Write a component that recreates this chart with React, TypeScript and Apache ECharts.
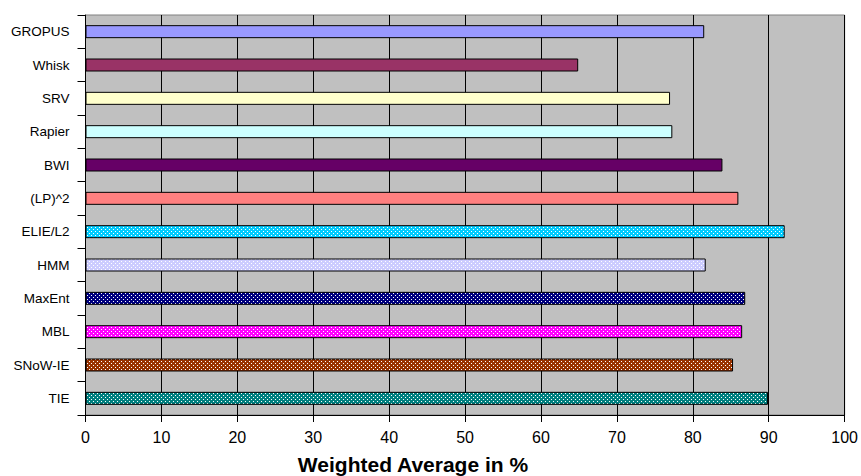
import React, { useEffect, useRef } from "react";
import * as echarts from "echarts";

// Systems, top to bottom
const systems = [
  "GROPUS", "Whisk", "SRV", "Rapier", "BWI", "(LP)^2",
  "ELIE/L2", "HMM", "MaxEnt", "MBL", "SNoW-IE", "TIE",
];
// Weighted average score (%) per system
const scores = [81.5, 64.9, 77.0, 77.3, 83.9, 86.0, 92.1, 81.7, 86.9, 86.5, 85.3, 89.9];
// Fill colour per system
const fills = [
  "#9999FF", "#993366", "#FFFFCC", "#CCFFFF", "#660066", "#FF8080",
  "#00CCFF", "#CCCCFF", "#000080", "#FF00FF", "#993300", "#008080",
];
// Whether the bar uses a dotted (checker) fill
const dotted = [false, false, false, false, false, false, true, true, true, true, true, true];
const xTicks = [0, 10, 20, 30, 40, 50, 60, 70, 80, 90, 100];

function dotPattern(base: string) {
  const c = document.createElement("canvas");
  c.width = 4;
  c.height = 4;
  const ctx = c.getContext("2d")!;
  ctx.fillStyle = base;
  ctx.fillRect(0, 0, 4, 4);
  ctx.fillStyle = "#FFFFFF";
  ctx.fillRect(1, 1, 1, 1);
  ctx.fillRect(3, 3, 1, 1);
  return { image: c, repeat: "repeat" as const };
}

export default function App() {
  const ref = useRef<HTMLDivElement>(null);

  useEffect(() => {
    if (!ref.current) return;
    const chart = echarts.init(ref.current, undefined, { renderer: "svg" });
    const data = scores.map((v, i) => ({
      value: v,
      itemStyle: {
        color: dotted[i] ? (dotPattern(fills[i]) as any) : fills[i],
        borderColor: "#000000",
        borderWidth: 1,
      },
    }));
    chart.setOption({
      animation: false,
      backgroundColor: "#FFFFFF",
      grid: {
        left: 85.5,
        right: 15.5,
        top: 15,
        bottom: 61,
        show: true,
        backgroundColor: "#C0C0C0",
        borderColor: "#808080",
        borderWidth: 1,
      },
      xAxis: {
        type: "value",
        min: xTicks[0],
        max: xTicks[xTicks.length - 1],
        interval: 10,
        axisLine: { show: true, lineStyle: { color: "#000000", width: 1 } },
        axisTick: { show: true, length: 7, lineStyle: { color: "#000000" } },
        axisLabel: {
          margin: 14,
          color: "#000000",
          fontSize: 16,
          fontFamily: "Liberation Sans, Arial, sans-serif",
        },
        splitLine: { show: true, lineStyle: { color: "#000000", width: 1 } },
      },
      yAxis: {
        type: "category",
        data: systems,
        inverse: true,
        axisLine: { show: true, lineStyle: { color: "#000000", width: 1 } },
        axisTick: { show: true, length: 8, lineStyle: { color: "#000000" } },
        axisLabel: {
          margin: 16,
          color: "#000000",
          fontSize: 13.5,
          fontFamily: "Liberation Sans, Arial, sans-serif",
        },
        splitLine: { show: false },
      },
      series: [
        {
          type: "bar",
          data,
          barWidth: 13,
        },
      ],
      graphic: [
        {
          type: "text",
          x: 413,
          y: 475,
          style: {
            text: "Weighted Average in %",
            fill: "#000000",
            font: "bold 21px 'Liberation Sans', Arial, sans-serif",
            textAlign: "center",
            textVerticalAlign: "bottom",
          },
        },
      ],
    });
    return () => chart.dispose();
  }, []);

  return (
    <div
      ref={ref}
      style={{ position: "fixed", left: 0, top: 0, width: 861, height: 476 }}
    />
  );
}
